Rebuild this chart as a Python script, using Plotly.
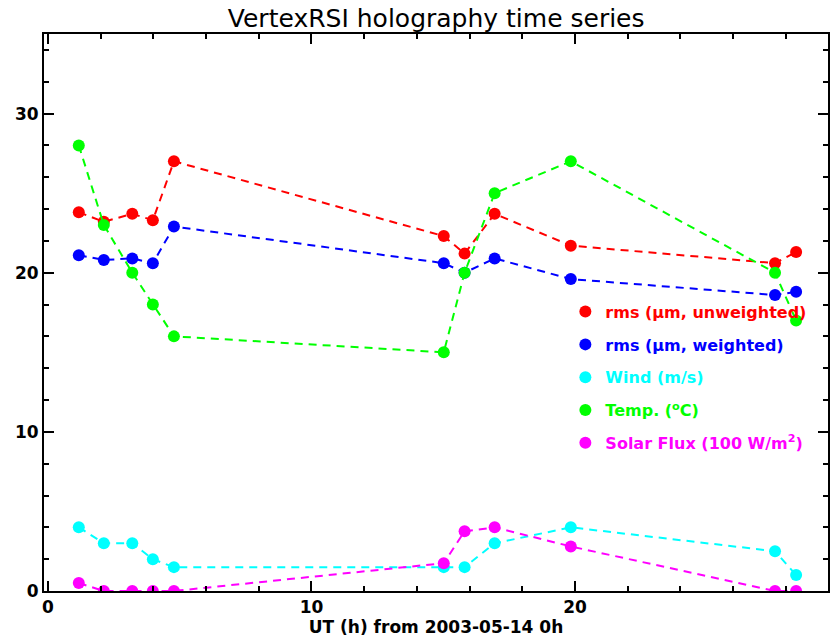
import plotly.graph_objects as go

# Data (UT hours from 2003-05-14 0h)
ut_hours = [1.17, 2.12, 3.20, 3.98, 4.78, 15.02, 15.81, 16.95, 19.84, 27.59, 28.39]
rms_unweighted = [23.8, 23.2, 23.7, 23.3, 27.0, 22.3, 21.2, 23.7, 21.7, 20.6, 21.3]
rms_weighted = [21.1, 20.8, 20.9, 20.6, 22.9, 20.6, 20.0, 20.9, 19.6, 18.6, 18.8]
wind = [4.0, 3.0, 3.0, 2.0, 1.5, 1.5, 1.5, 3.0, 4.0, 2.5, 1.0]
temp = [28, 23, 20, 18, 16, 15, 20, 25, 27, 20, 17]
solar_flux = [0.5, 0.0, 0.0, 0.0, 0.0, 1.75, 3.75, 4.0, 2.8, 0.0, 0.0]

series_names = [
    "rms (&mu;m, unweighted)",
    "rms (&mu;m, weighted)",
    "Wind (m/s)",
    "Temp. (<sup>o</sup>C)",
    "Solar Flux (100 W/m<sup>2</sup>)",
]
series_values = [rms_unweighted, rms_weighted, wind, temp, solar_flux]
series_colors = ["#ff0000", "#0000ff", "#00ffff", "#00ff00", "#ff00ff"]

x_ticks = [0, 10, 20]
y_ticks = [0, 10, 20, 30]

FONT = "DejaVu Sans"

fig = go.Figure()

for name, vals, col in zip(series_names, series_values, series_colors):
    fig.add_trace(go.Scatter(
        x=ut_hours, y=vals, mode="lines+markers",
        line=dict(color=col, width=2, dash="8px,6px"),
        marker=dict(color=col, size=12),
        showlegend=False, hoverinfo="skip",
    ))

# legend-only marker entries
for i, (name, col) in enumerate(zip(series_names, series_colors)):
    fig.add_trace(go.Scatter(
        x=[None], y=[None], mode="markers",
        marker=dict(color=col, size=12),
        name='<span style="color:%s">%s</span>' % (col, name),
        legendgroup="g%d" % i, showlegend=True,
    ))

axis_common = dict(
    showline=True, linecolor="black", linewidth=2, mirror="allticks",
    ticks="inside", ticklen=10, tickwidth=2, tickcolor="black",
    showgrid=False, zeroline=False,
    tickfont=dict(family=FONT, size=17, color="black", weight="bold"),
    minor=dict(ticks="inside", ticklen=5, tickwidth=2, tickcolor="black", dtick=2, showgrid=False),
)

fig.update_layout(
    width=834, height=642,
    margin=dict(l=44, r=4, t=34, b=51),
    paper_bgcolor="white", plot_bgcolor="white",
    title=dict(text="VertexRSI holography time series", x=0.523, xanchor="center",
               y=1 - 18 / 642, yanchor="middle",
               font=dict(family=FONT, size=25, color="black")),
    xaxis=dict(range=[-0.15, 29.6], tickmode="array", tickvals=x_ticks,
               ticktext=[str(v) for v in x_ticks],
               title=dict(text="UT (h) from 2003-05-14 0h", standoff=3,
                          font=dict(family=FONT, size=17, color="black", weight="bold")),
               **axis_common),
    yaxis=dict(range=[0, 35], tickmode="array", tickvals=y_ticks,
               ticktext=[str(v) for v in y_ticks], **axis_common),
    legend=dict(x=0.665, y=0.532, xanchor="left", yanchor="top",
                bgcolor="rgba(0,0,0,0)", tracegroupgap=9,
                font=dict(family=FONT, size=16, color="black", weight="bold")),
    font=dict(family=FONT),
)

fig.write_html("out.html")
